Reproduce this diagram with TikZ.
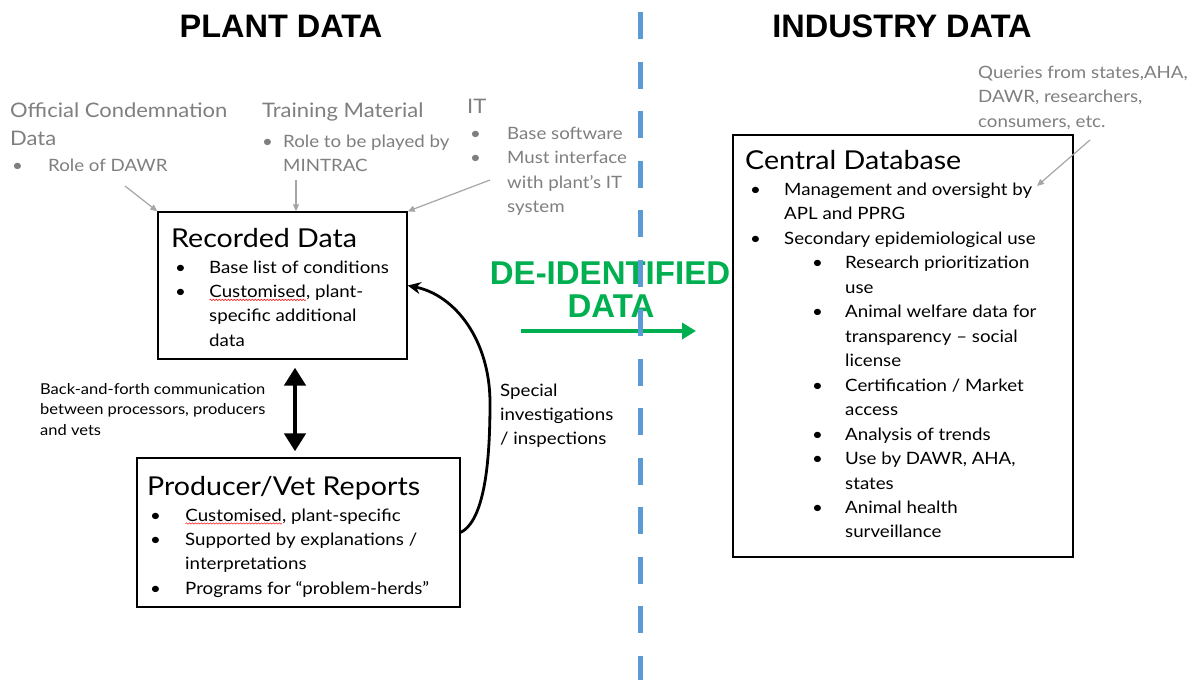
\documentclass[tikz,border=0pt]{standalone}
\usepackage{fontspec}
\setmainfont{Lato}[FakeStretch=1.1]
\newfontfamily\hdfont{Liberation Sans}
\usetikzlibrary{arrows.meta,decorations.pathmorphing}
\definecolor{grayT}{HTML}{7F7F7F}
\definecolor{grayA}{HTML}{A6A6A6}
\definecolor{gr}{HTML}{00B050}
\definecolor{bl}{HTML}{5B9BD5}
\newcommand\sqg[1]{\tikz[baseline=(w.base)]{\node[inner sep=0pt,outer sep=0pt](w){#1};\draw[red,line width=0.5pt,decorate,decoration={snake,amplitude=0.7pt,segment length=3pt}] ([yshift=-2.5pt]w.base west) -- ([yshift=-2.5pt]w.base east);}}
\begin{document}
\begin{tikzpicture}[x=1pt,y=-1pt,
  box/.style={draw=black, line width=1.3pt, inner sep=0pt, rectangle},
  txt/.style={anchor=base west, inner sep=0pt},
  gtxt/.style={txt, text=grayT},
  hdr/.style={anchor=base, inner sep=0pt, font=\hdfont\bfseries\fontsize{32.5}{32}\selectfont},
  grn/.style={anchor=base, inner sep=0pt, text=gr, font=\hdfont\bfseries\fontsize{33}{33}\selectfont},
  garrow/.style={draw=grayA, line width=1.2pt, -{Triangle[length=7pt,width=6pt]}},
  ttl/.style={txt, font=\fontsize{26}{30}\selectfont},
  body/.style={txt, font=\fontsize{17}{24.4}\selectfont},
  gbig/.style={gtxt, font=\fontsize{20}{28}\selectfont},
  gsmall/.style={gtxt, font=\fontsize{17}{24.5}\selectfont},
]
\useasboundingbox[fill=white] (0,0) rectangle (1203,680);

% headers
\node[hdr] (h1) at (281,37) {PLANT DATA};
\node[hdr] (h2) at (902,37) {INDUSTRY DATA};

% boxes
\node[box, minimum width=249pt, minimum height=147pt] (rd) at (282.5,285.5) {};
\node[box, minimum width=323pt, minimum height=149pt] (pv) at (298.5,532.5) {};
\node[box, minimum width=340pt, minimum height=422pt] (cd) at (903,346) {};

% titles
\node[ttl] (rdt) at (171,247) {Recorded Data};
\node[ttl] (pvt) at (147,495) {Producer/Vet Reports};
\node[ttl] (cdt) at (745,169) {Central Database};

% lists
\node[body] (rdl) at (175,273) {\begin{tabular}[t]{@{}p{34pt}@{}l@{}}
•&Base list of conditions\\
•&\sqg{Customised}, plant-\\
&specific additional\\
&data\end{tabular}};

\node[body] (pvl) at (150,521) {\begin{tabular}[t]{@{}p{35pt}@{}l@{}}
•&\sqg{Customised}, plant-specific\\
•&Supported by explanations /\\
&interpretations\\
•&Programs for “problem-herds”\end{tabular}};

\node[body, font=\fontsize{17}{24.5}\selectfont] (cdl) at (750,195) {\begin{tabular}[t]{@{}p{34pt}@{}p{28pt}@{}p{33pt}@{}l@{}}
•&\multicolumn{3}{@{}l@{}}{Management and oversight by}\\
&\multicolumn{3}{@{}l@{}}{APL and PPRG}\\
•&\multicolumn{3}{@{}l@{}}{Secondary epidemiological use}\\
&&•&Research prioritization\\
&&&use\\
&&•&Animal welfare data for\\
&&&transparency – social\\
&&&license\\
&&•&Certification / Market\\
&&&access\\
&&•&Analysis of trends\\
&&•&Use by DAWR, AHA,\\
&&&states\\
&&•&Animal health\\
&&&surveillance\end{tabular}};

% gray labels
\node[gbig] (ocd) at (10,117) {\begin{tabular}[t]{@{}l@{}}Official Condemnation\\Data\end{tabular}};
\node[gsmall] (ocdl) at (12,171) {\begin{tabular}[t]{@{}p{36pt}@{}l@{}}•&Role of DAWR\end{tabular}};
\node[gbig] (tm) at (262,117) {Training Material};
\node[gsmall] (tml) at (262,147) {\begin{tabular}[t]{@{}p{21pt}@{}l@{}}•&Role to be played by\\&MINTRAC\end{tabular}};
\node[gbig] (it) at (467,113) {IT};
\node[gsmall] (itl) at (470,139) {\begin{tabular}[t]{@{}p{37pt}@{}l@{}}•&Base software\\•&Must interface\\&with plant’s IT\\&system\end{tabular}};
\node[gsmall] (qr) at (978,78) {\begin{tabular}[t]{@{}l@{}}Queries from states,AHA,\\DAWR, researchers,\\consumers, etc.\end{tabular}};

% side texts
\node[txt, font=\fontsize{15}{20.5}\selectfont] (bf) at (40,394) {\begin{tabular}[t]{@{}l@{}}Back-and-forth communication\\between processors, producers\\and vets\end{tabular}};
\node[body, font=\fontsize{17}{24}\selectfont] (si) at (500,396) {\begin{tabular}[t]{@{}l@{}}Special\\investigations\\/ inspections\end{tabular}};

% green
\node[grn] (di) at (610,284) {DE-IDENTIFIED};
\node[grn] (dd) at (611,317) {DATA};
\coordinate (ga) at (521,331);
\coordinate (gb) at (696,331);
\draw[draw=gr, line width=4.5pt, -{Triangle[length=14pt,width=16pt]}] (ga) -- (gb);

% gray arrows
\coordinate (ocA) at (125,186);
\coordinate (tmA) at (296,180);
\coordinate (itA) at (490,180);
\coordinate (qA) at (1090,140);
\coordinate (qB) at (1037,186);
\draw[garrow] (ocA) -- (rd.north west);
\draw[garrow] (tmA) -- (tmA |- rd.north);
\draw[garrow] (itA) -- (rd.north east);
\draw[garrow] (qA) -- (qB);

% double arrow
\coordinate (dx) at (295,0);
\draw[line width=4.5pt, {Triangle[length=18pt,width=21pt]}-{Triangle[length=18pt,width=21pt]}, shorten <=8pt, shorten >=6pt] (rd.south -| dx) -- (pv.north -| dx);

% curved arrow
\draw[line width=2.8pt, -{Stealth[length=13pt,width=12pt]}] (pv.east) .. controls (485,520) and (490,460) .. (490,403) .. controls (490,340) and (455,295) .. (rd.east);

% blue divider
\coordinate (b1) at (640,12);
\coordinate (b2) at (640,690);
\draw[bl, line width=5pt, dash pattern=on 27pt off 22.5pt] (b1) -- (b2);
\end{tikzpicture}
\end{document}
